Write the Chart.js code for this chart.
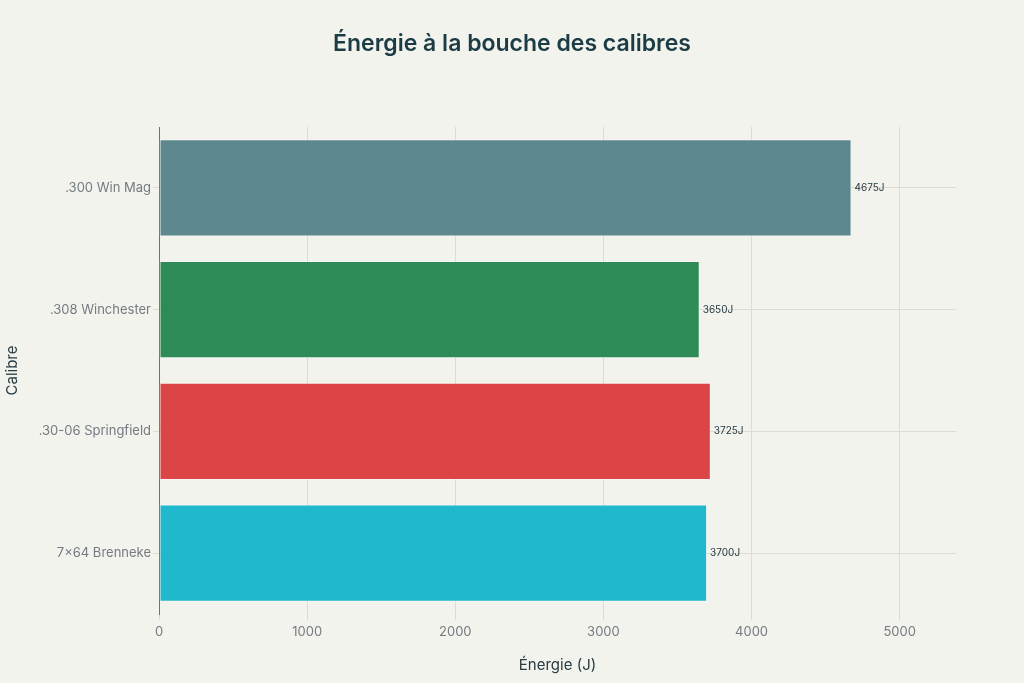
<!DOCTYPE html>
<html lang="fr">
<head>
<meta charset="utf-8">
<title>Énergie à la bouche des calibres</title>
<script src="https://cdn.jsdelivr.net/npm/chart.js@4/dist/chart.umd.min.js"></script>
<style>
  html, body { margin: 0; padding: 0; background: #f3f3ee; }
  #wrap { width: 1024px; height: 683px; }
</style>
</head>
<body>
<div id="wrap"><canvas id="chart"></canvas></div>
<script>
const calibres = [".300 Win Mag", ".308 Winchester", ".30-06 Springfield", "7×64 Brenneke"];
const energies = [4675, 3650, 3725, 3700];
const barColors = ["#5e8890", "#2e8b57", "#db4545", "#1fb8cd"];
const xTicks = [0, 1000, 2000, 3000, 4000, 5000];

const FONT = "Inter, 'Liberation Sans', Arial, sans-serif";

// titre centré sur toute la largeur + étiquettes de valeur
const decorations = {
  id: "decorations",
  afterDatasetsDraw(chart) {
    const ctx = chart.ctx;
    const meta = chart.getDatasetMeta(0);
    ctx.save();
    ctx.font = "10px " + FONT;
    ctx.fillStyle = "#263b42";
    ctx.textAlign = "left";
    ctx.textBaseline = "middle";
    meta.data.forEach((bar, i) => {
      ctx.fillText(energies[i] + "J", bar.x + 3, bar.y);
    });
    ctx.font = "600 23px " + FONT;
    ctx.fillStyle = "#1c3c45";
    ctx.textAlign = "center";
    ctx.fillText("Énergie à la bouche des calibres", chart.width / 2, 44);
    ctx.restore();
  },
};

const chart = new Chart(document.getElementById("chart"), {
  type: "bar",
  data: {
    labels: calibres,
    datasets: [
      {
        data: energies,
        backgroundColor: barColors,
        borderColor: "rgba(255,255,255,0.3)",
        borderWidth: 1,
        borderSkipped: false,
        categoryPercentage: 1,
        barPercentage: 0.8,
      },
    ],
  },
  options: {
    indexAxis: "y",
    responsive: true,
    maintainAspectRatio: false,
    animation: false,
    layout: { padding: { left: 0, right: 68, top: 127, bottom: 0 } },
    plugins: {
      legend: { display: false },
      tooltip: { enabled: false },
      title: { display: false },
    },
    scales: {
      x: {
        min: 0,
        max: 5380,
        afterBuildTicks: (scale) => {
          scale.ticks = xTicks.map((v) => ({ value: v }));
        },
        afterFit: (scale) => {
          scale.height = 69;
        },
        ticks: {
          color: "#737b80",
          padding: 4,
          font: { family: FONT, size: 13 },
          callback: (v) => String(v),
        },
        grid: { color: "#dcdcd5", lineWidth: 1, tickLength: 6 },
        border: { display: false },
        title: {
          display: true,
          text: "Énergie (J)",
          color: "#263b42",
          font: { family: FONT, size: 15 },
          padding: { top: 0, bottom: 9 },
        },
      },
      y: {
        afterFit: (scale) => {
          scale.width = 159;
        },
        ticks: {
          color: "#737b80",
          padding: 2,
          font: { family: FONT, size: 13 },
        },
        grid: { color: "#dcdcd5", lineWidth: 1, tickLength: 6, offset: false },
        border: { display: true, color: "#707070", width: 1 },
        title: {
          display: true,
          text: "Calibre",
          color: "#263b42",
          font: { family: FONT, size: 15 },
          padding: { top: 3, bottom: 3 },
        },
      },
    },
  },
  plugins: [decorations],
});
</script>
</body>
</html>
